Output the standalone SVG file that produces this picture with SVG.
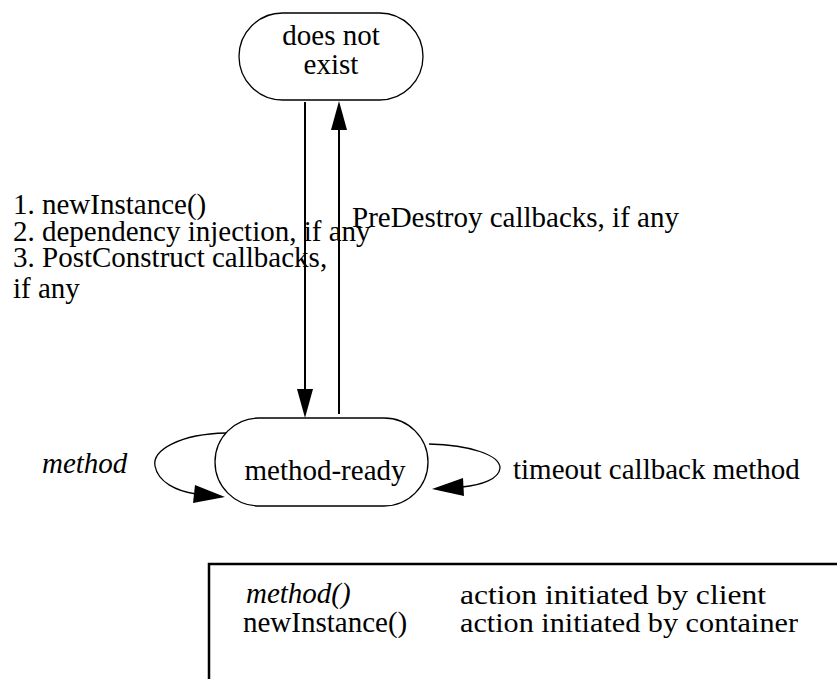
<svg xmlns="http://www.w3.org/2000/svg" width="837" height="679" viewBox="0 0 837 679">
<style>
text{font-family:"Liberation Serif","Times New Roman","DejaVu Serif",serif;font-size:29px;fill:#000}
.it{font-style:italic}
.node{fill:#fff;stroke:#000;stroke-width:1.3}
.edge{fill:none;stroke:#000;stroke-width:2}
.loop{fill:none;stroke:#000;stroke-width:1.3}
.head{fill:#000;stroke:none}
.leg{font-size:27px}
</style>
<rect width="837" height="679" fill="#fff"/>
<g id="connectors">
  <line class="edge" x1="305" y1="102" x2="305" y2="392"/>
  <polygon class="head" points="305,418 297,389 313,389"/>
  <line class="edge" x1="339" y1="414" x2="339" y2="128"/>
  <polygon class="head" points="339,101 331,130 347,130"/>
  <path class="loop" d="M226,433 C180,434 152,450 155,466 C158,482 176,491 196,494"/>
  <polygon class="head" points="225,497 195,485 193,503"/>
  <path class="loop" d="M429,444 C470,445 500,455 500,468 C499,479 482,485 462,487"/>
  <polygon class="head" points="432,489 463,478 464,496"/>
</g>
<g id="node-does-not-exist">
  <rect class="node" x="239" y="13" width="184" height="87" rx="43.5"/>
  <text x="331" y="45" text-anchor="middle">does not</text>
  <text x="331" y="74" text-anchor="middle">exist</text>
</g>
<g id="node-method-ready">
  <rect class="node" x="215" y="418" width="213" height="88" rx="44"/>
  <text x="325" y="480" text-anchor="middle">method-ready</text>
</g>
<g id="labels">
  <text x="13" y="214">1. newInstance()</text>
  <text x="13" y="241">2. dependency injection, if any</text>
  <text x="13" y="267">3. PostConstruct callbacks,</text>
  <text x="13" y="298">if any</text>
  <text x="352" y="227">PreDestroy callbacks, if any</text>
  <text class="it" x="42" y="473" font-size="31">method</text>
  <text x="513" y="479">timeout callback method</text>
</g>
<g id="legend">
  <path d="M209,679 V564 H837" fill="none" stroke="#000" stroke-width="2.5"/>
  <text class="it" x="246" y="603" font-size="27">method()</text>
  <text x="243" y="632" font-size="24">newInstance()</text>
  <text class="leg" x="460" y="604" textLength="306" lengthAdjust="spacingAndGlyphs">action initiated by client</text>
  <text class="leg" x="460" y="632" textLength="338" lengthAdjust="spacingAndGlyphs">action initiated by container</text>
</g>
</svg>
